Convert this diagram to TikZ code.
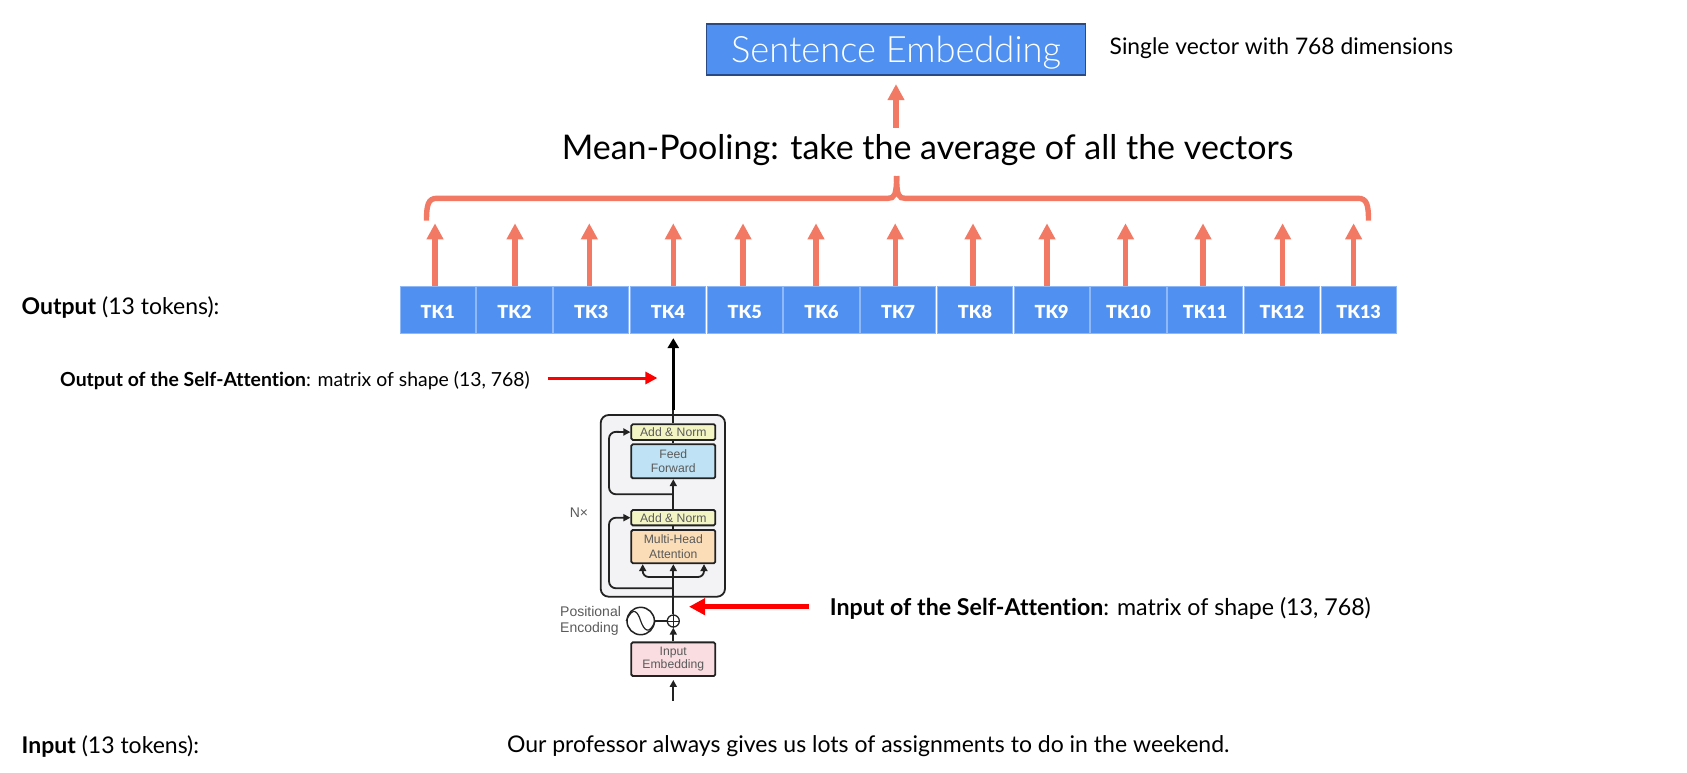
\documentclass[tikz,border=0pt]{standalone}
\usepackage{fontspec}
\setmainfont{Lato}[Ligatures=NoCommon]
\newfontfamily\lightfont[UprightFont=* Light,Ligatures=NoCommon]{Lato}
\newfontfamily\tkfont[UprightFont=* Black]{Lato}
\newfontfamily\archfont{Liberation Sans}
\usetikzlibrary{arrows.meta,calc}
\definecolor{tkblue}{HTML}{4F90F0}
\definecolor{tkedge}{HTML}{8FB8F6}
\definecolor{salmon}{HTML}{F27A65}
\definecolor{darkedge}{HTML}{2A4A85}
\definecolor{graytext}{HTML}{5A5A5A}
\definecolor{inkdark}{HTML}{222222}
\definecolor{addnorm}{HTML}{F3F6C4}
\definecolor{feedf}{HTML}{BFE3F5}
\definecolor{multih}{HTML}{FBDDB8}
\definecolor{inpemb}{HTML}{F9DDE0}
\definecolor{outerf}{HTML}{F3F3F5}
\tikzset{
 fs/.style={font=\fontsize{#1}{#1}\selectfont},
 tkbox/.style={draw=tkedge,line width=0.8pt,fill=tkblue,text=white,inner sep=0pt,minimum width=75.2pt,minimum height=47.2pt,text height=18pt,text depth=0pt,font=\tkfont\fontsize{18}{18}\selectfont},
 uparrow/.style={draw=salmon,line width=5.2pt,-{Triangle[length=16pt,width=16pt]},fill=salmon},
 brace/.style={draw=salmon,line width=5.4pt},
 lbl/.style={anchor=west,inner sep=0pt,text=black},
 archbox/.style={draw=inkdark,line width=1.8pt,rounded corners=1.5pt,inner sep=0pt,minimum width=84pt,text=graytext,align=center,font=\archfont\fontsize{12.2}{14.5}\selectfont},
 archline/.style={draw=inkdark,line width=1.8pt},
 archarrow/.style={archline,-{Triangle[length=7pt,width=7pt]}},
 redarrow/.style={draw=red,-{Triangle[length=#1,width=#1]}},
}
\begin{document}
\begin{tikzpicture}[x=1pt,y=-1pt]
\useasboundingbox (0,0) rectangle (1687,772);
% sentence embedding
\node[draw=darkedge,line width=1.6pt,fill=tkblue,inner sep=0pt,minimum width=379pt,minimum height=51pt] (sent) at (896,49.5) {};
\node[text=white,inner sep=0pt,font=\lightfont\fontsize{36.3}{36.3}\selectfont] (senttext) at (896,52.5) {Sentence Embedding};
\node[lbl,fs=22.8] (single) at (1109.5,48) {Single vector with 768 dimensions};
\node[lbl,fs=34] (mean) at (561.6,150) {Mean-Pooling: take the average of all the vectors};
% tokens
\foreach \i/\cx in {1/437.7,2/514.4,3/591.2,4/667.9,5/744.7,6/821.4,7/898.1,8/974.9,9/1051.6,10/1128.4,11/1205.1,12/1281.9,13/1358.6}{
  \node[tkbox] (tk\i) at (\cx,309.6) {TK\i};
}
% salmon arrows
\foreach \i/\ax in {1/435,2/515,3/589.3,4/673.3,5/743,6/816,7/895.2,8/973,9/1047,10/1125.5,11/1203,12/1282.6,13/1353.6}{
  \coordinate (tip\i) at (\ax,223.3);
  \draw[uparrow] (tip\i |- tk\i.north) -- (tip\i);
}
% brace
\coordinate (bl) at (426.5,220.7);
\coordinate (br) at (1368.5,220.7);
\coordinate (bm) at (896.6,176);
\draw[brace] (bl) .. controls (426.5,205) and (428,198.3) .. (437,198.3) -- (888,198.3) .. controls (894,198.3) and (896.6,196) .. (bm);
\draw[brace] (bm) .. controls (896.6,196) and (899,198.3) .. (905,198.3) -- (1358,198.3) .. controls (1367,198.3) and (1368.5,205) .. (br);
\coordinate (pool) at (896,128);
\draw[uparrow] (pool) -- ([yshift=-8.3pt]sent.south -| pool);
% labels
\node[lbl,fs=23] (outlab) at (21.5,307.2) {\textbf{Output} (13 tokens):};
\node[lbl,fs=19.4] (outself) at (60,380.5) {\textbf{Output of the Self-Attention}: matrix of shape (13, 768)};
\node[lbl,fs=23.2] (inself) at (829.6,608.3) {\textbf{Input of the Self-Attention}: matrix of shape (13, 768)};
\node[lbl,fs=23] (inlab) at (21.5,746.2) {\textbf{Input} (13 tokens):};
\node[lbl,fs=23] (sentence) at (506.8,746.2) {Our professor always gives us lots of assignments to do in the weekend.};
% transformer block
\node[draw=inkdark,line width=1.8pt,fill=outerf,rounded corners=8pt,minimum width=124.3pt,minimum height=181.7pt,inner sep=0pt] (outer) at (662.85,505.85) {};
\node[archbox,fill=addnorm,minimum height=15.7pt] (an2) at (673.3,432.1) {Add \& Norm};
\node[archbox,fill=feedf,minimum height=34pt] (ff) at (673.3,461.3) {Feed\\Forward};
\node[archbox,fill=addnorm,minimum height=15.3pt] (an1) at (673.3,517.7) {Add \& Norm};
\node[archbox,fill=multih,minimum height=33.3pt] (mh) at (673.3,546.6) {Multi-Head\\Attention};
\node[archbox,fill=inpemb,minimum height=33.7pt] (ie) at (673.3,659.2) {\raisebox{2pt}{\begin{tabular}{@{}c@{}}Input\\[-2pt]Embedding\end{tabular}}};
\node[draw=inkdark,line width=1.3pt,circle,minimum size=12pt,inner sep=0pt] (plus) at (673.3,621) {};
\draw[inkdark,line width=0.8pt] (plus.north) -- (plus.south) (plus.west) -- (plus.east);
\node[draw=inkdark,line width=1.5pt,circle,minimum size=27.4pt,inner sep=0pt] (sine) at (640.7,621) {};
\draw[inkdark,line width=1.2pt] (sine.west) .. controls (633,605) and (638,612) .. (sine.center) .. controls (644,630) and (649,636) .. (sine.east);
\node[text=graytext,inner sep=0pt,font=\archfont\fontsize{14}{14}\selectfont] (nx) at (579,513) {N×};
\node[text=graytext,inner sep=0pt,anchor=west,font=\archfont\fontsize{14}{14}\selectfont] (pos) at (560,611.7) {Positional};
\node[text=graytext,inner sep=0pt,anchor=west,font=\archfont\fontsize{14}{14}\selectfont] (enc) at (560,629.3) {Encoding};
% internal connectors
\coordinate (inp) at (673.3,700.7);
\draw[archarrow] (inp) -- ([yshift=-3pt]ie.south);
\draw[archarrow] (ie.north) -- (plus.south);
\draw[archline] (sine.east) -- (plus.west);
\draw[archarrow] (plus.north) -- (mh.south);
\draw[archline] (mh.north) -- (an1.south);
\draw[archarrow] (an1.north) -- (ff.south);
\draw[archline] (ff.north) -- (an2.south);
\coordinate (blk1) at (673.3,588.3);
\coordinate (blk2) at (673.3,494.3);
\draw[archarrow,rounded corners=7pt] (blk1) -- (609,588.3) -- (609,517.7) -- (an1.west);
\draw[archarrow,rounded corners=7pt] (blk2) -- (609,494.3) -- (609,431.7) -- (an2.west);
\coordinate (fork) at (673.3,577);
\draw[archarrow,rounded corners=6pt] (fork) -- (642.7,577) -- ([xshift=-30.6pt]mh.south);
\draw[archarrow,rounded corners=6pt] (fork) -- (704,577) -- ([xshift=30.7pt]mh.south);
% output arrow
\coordinate (oute) at (673.3,410);
\draw[archline] (an2.north) -- (oute);
\draw[draw=black,line width=2.6pt,-{Triangle[length=10pt,width=11pt]}] (oute) -- ([yshift=-4.5pt]tk4.south -| oute);
% red arrows
\coordinate (r1s) at (547.6,378);
\coordinate (r1e) at (657.4,378);
\draw[redarrow=12pt,line width=3pt] (r1s) -- (r1e);
\coordinate (r2s) at (808.7,606.7);
\coordinate (r2e) at (689,606.7);
\draw[redarrow=16pt,line width=5.5pt] (r2s) -- (r2e);
\end{tikzpicture}
\end{document}
